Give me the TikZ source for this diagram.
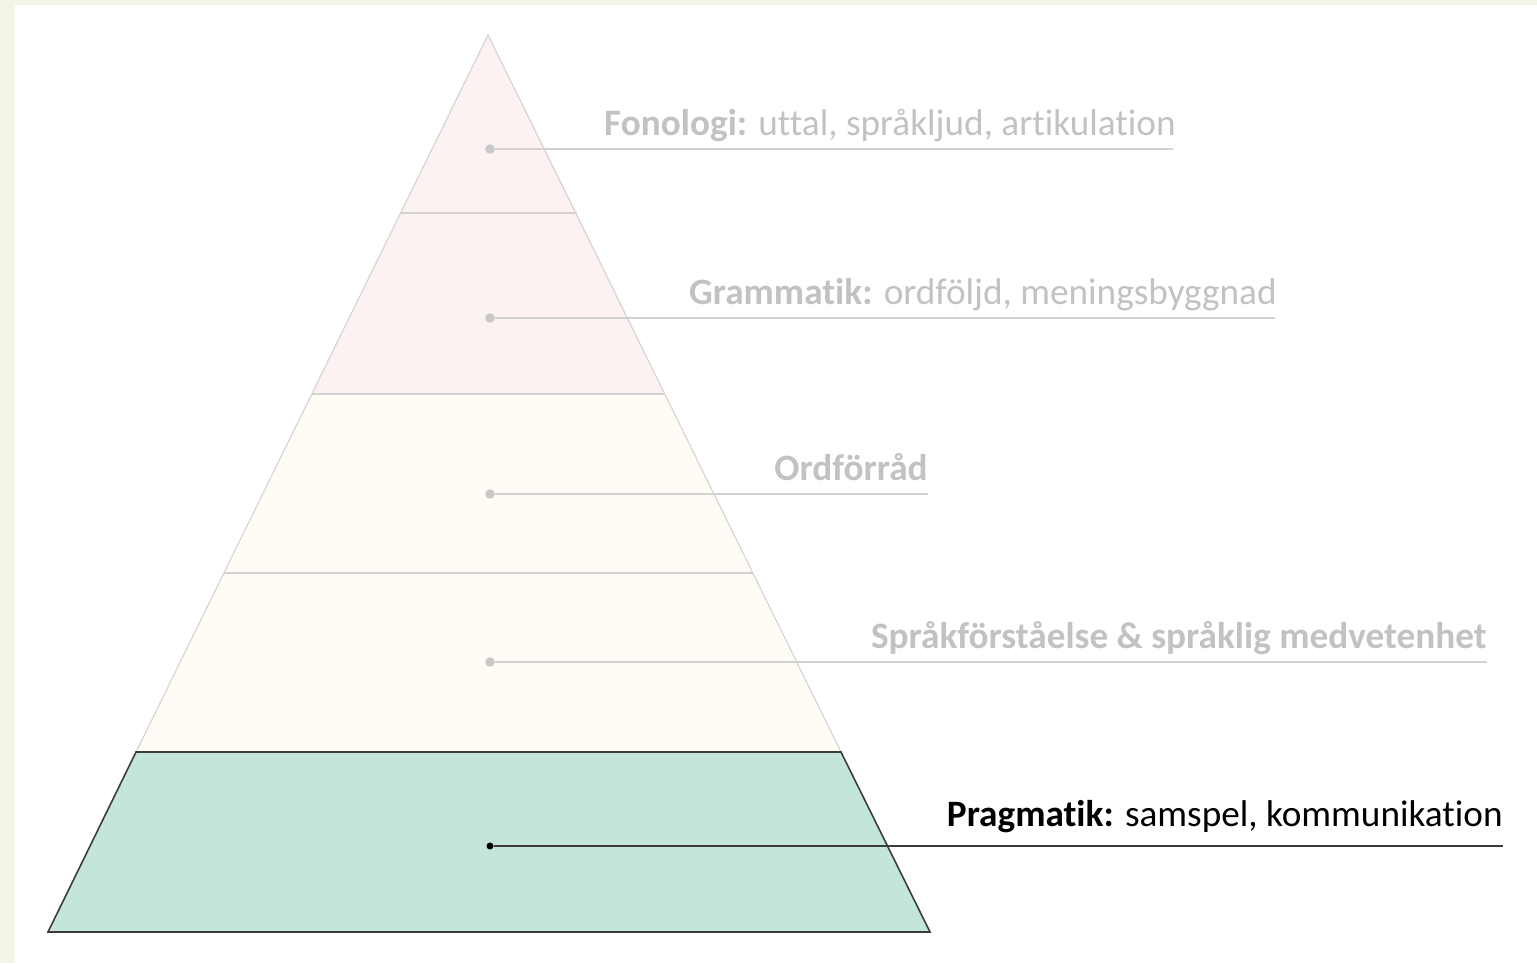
\documentclass[tikz,border=0pt]{standalone}
\usepackage{fontspec}
\setmainfont{Carlito}[Ligatures=NoCommon]
\usetikzlibrary{positioning}
\definecolor{pagegreen}{HTML}{F2F5E8}
\definecolor{pinkfill}{HTML}{FCF2F2}
\definecolor{creamfill}{HTML}{FEFCF4}
\definecolor{tealfill}{HTML}{C4E5DA}
\definecolor{fadedline}{HTML}{D2D2D2}
\definecolor{fadeddot}{HTML}{C8C8C8}
\definecolor{fadedtext}{HTML}{C2C2C2}
\definecolor{darkline}{HTML}{3C3C3C}
\tikzstyle{layer} = [draw=fadedline, line width=0.6pt]
\tikzstyle{baselayer} = [draw=darkline, line width=0.9pt, fill=tealfill]
\tikzstyle{dot} = [circle, inner sep=0, minimum size=0.19cm, fill=fadeddot]
\tikzstyle{leader} = [draw=fadedline, line width=0.9pt]
\tikzstyle{levelname} = [anchor=base east, inner sep=0, font=\fontsize{21.2}{25}\selectfont, text=fadedtext]

\begin{document}
\begin{tikzpicture}[x=0.02cm, y=-0.02cm]
	% page background
	\fill[pagegreen] (0,0) rectangle (1537,963);
	\fill[white] (15,5) rectangle (1537,963);
	\useasboundingbox (0,0) rectangle (1537,963);

	% pyramid layers
	\fill[pinkfill] (488,35) -- (577,213) -- (400,213) -- cycle;
	\fill[pinkfill] (400,213) -- (577,213) -- (665,394) -- (312,394) -- cycle;
	\fill[creamfill] (312,394) -- (665,394) -- (753,573) -- (224,573) -- cycle;
	\fill[creamfill] (224,573) -- (753,573) -- (841,752) -- (136,752) -- cycle;
	\draw[layer] (136,752) -- (488,35) -- (841,752);
	\draw[layer] (400,213) -- (577,213);
	\draw[layer] (312,394) -- (665,394);
	\draw[layer] (224,573) -- (753,573);
	\draw[baselayer] (136,752) -- (841,752) -- (930,932) -- (48,932) -- cycle;

	% dots and leader ends
	\node (fon_dot) [dot] at (490,149) {};
	\node (gram_dot) [dot] at (490,318) {};
	\node (ord_dot) [dot] at (490,494) {};
	\node (forst_dot) [dot] at (490,662) {};
	\node (prag_dot) [dot, minimum size=0.14cm, fill=black] at (490,846) {};
	\coordinate (fon_end) at (1173,149);
	\coordinate (gram_end) at (1275,318);
	\coordinate (ord_end) at (928,494);
	\coordinate (forst_end) at (1487,662);
	\coordinate (prag_end) at (1503,846);

	\draw[leader] (fon_dot) -- (fon_end);
	\draw[leader] (gram_dot) -- (gram_end);
	\draw[leader] (ord_dot) -- (ord_end);
	\draw[leader] (forst_dot) -- (forst_end);
	\draw[leader, draw=darkline, line width=1.2pt] (prag_dot) -- (prag_end);

	% level names
	\node (fon_text) [levelname, yshift=0.27cm, xshift=0.06cm] at (fon_end) {\textbf{Fonologi:} uttal, språkljud, artikulation};
	\node (gram_text) [levelname, yshift=0.27cm, xshift=0.04cm] at (gram_end) {\textbf{Grammatik:} ordföljd, meningsbyggnad};
	\node (ord_text) [levelname, yshift=0.27cm] at (ord_end) {\textbf{Ordförråd}};
	\node (forst_text) [levelname, yshift=0.27cm] at (forst_end) {\textbf{Språkförståelse \& språklig medvetenhet}};
	\node (prag_text) [levelname, text=black, yshift=0.4cm] at (prag_end) {\textbf{Pragmatik:} samspel, kommunikation};
\end{tikzpicture}
\end{document}
